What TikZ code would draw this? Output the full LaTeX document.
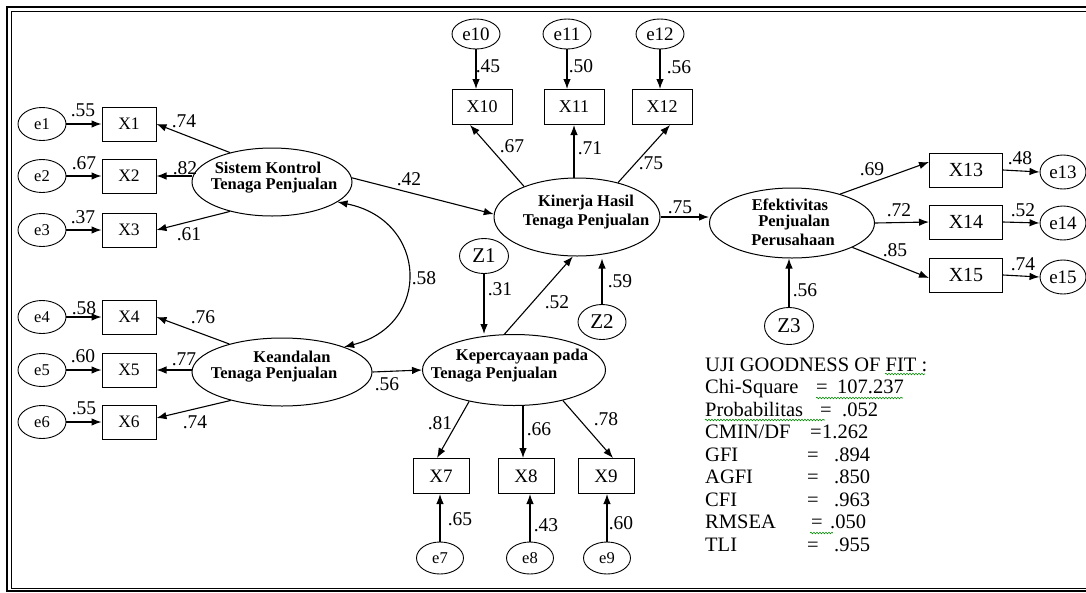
\documentclass[tikz,border=0pt]{standalone}
\usepackage{fontspec}
\setmainfont{Liberation Serif}
\usetikzlibrary{arrows.meta,shapes.geometric,decorations.pathmorphing}
\begin{document}
\begin{tikzpicture}[x=1pt,y=1pt,
 obs/.style={draw, rectangle, line width=1pt, inner sep=0pt, minimum height=34pt},
 err/.style={draw, ellipse, line width=0.9pt, inner sep=0pt},
 lat/.style={draw, ellipse, line width=1pt, inner sep=0pt},
 lt/.style={font=\fontsize{16.5}{18}\selectfont\bfseries, inner sep=0pt},
 lbl/.style={font=\fontsize{19.5}{20}\selectfont, inner sep=0pt},
 arr/.style={-{Latex[length=10pt,width=7.5pt]}, line width=1.1pt},
 st/.style={font=\fontsize{20.5}{22}\selectfont, inner sep=0pt, anchor=base west},
 squig/.style={draw=green!55!black, line width=0.6pt, decorate, decoration={snake, amplitude=0.8pt, segment length=3pt}}
]
\useasboundingbox (0,0) rectangle (1086,-592);
\clip (0,0) rectangle (1086,-592);
% frame
\draw[line width=2pt] (7,-7) rectangle (1100,-591);
\draw[line width=0.9pt] (11,-11) rectangle (1100,-588);

% left indicators
\foreach \i/\y in {1/124,2/176,3/230,4/317,5/370,6/422} {
  \node[err, minimum width=48pt, minimum height=33pt, font=\fontsize{16.5}{16}\selectfont] (e\i) at (42,-\y) {e\i};
  \node[obs, minimum width=54pt, font=\fontsize{17.5}{16}\selectfont] (X\i) at (129,-\y) {X\i};
  \draw[arr] (e\i) -- (X\i);
}
% top indicators
\foreach \i/\x/\ex in {10/482/476,11/574/567,12/662/660} {
  \node[obs, minimum width=60pt, minimum height=35pt, font=\fontsize{18}{16}\selectfont] (X\i) at (\x,-107) {X\i};
  \node[err, minimum width=48pt, minimum height=30pt, font=\fontsize{19}{18}\selectfont] (e\i) at (\ex,-34) {e\i};
  \draw[arr] (e\i.south) -- (e\i.south |- X\i.north);
}
% right indicators
\foreach \i/\y/\ey in {13/170/172,14/222/223,15/275/277} {
  \node[obs, minimum width=73pt, font=\fontsize{20}{19}\selectfont] (X\i) at (966,-\y) {X\i};
  \node[err, minimum width=46pt, minimum height=34pt, font=\fontsize{19}{18}\selectfont] (e\i) at (1063,-\ey) {e\i};
  \draw[arr] (X\i.east) -- (e\i.west);
}
% bottom indicators
\foreach \i/\x/\ex in {7/441/440,8/526/530,9/606/607} {
  \node[obs, minimum width=56pt, minimum height=35pt, font=\fontsize{19}{18}\selectfont] (X\i) at (\x,-476) {X\i};
  \node[err, minimum width=47pt, minimum height=32pt, font=\fontsize{16.5}{16}\selectfont] (e\i) at (\ex,-558) {e\i};
  \draw[arr] (e\i.north) -- (e\i.north |- X\i.south);
}

% latent variables
\node[lat, minimum width=160pt, minimum height=68pt] (sk) at (272,-182) {};
\node[lt] (skt1) at (268,-168) {Sistem Kontrol};
\node[lt] (skt2) at (274,-186) {Tenaga Penjualan};
\node[lat, minimum width=180pt, minimum height=68pt] (kd) at (282,-372) {};
\node[lt] (kdt1) at (292,-357) {Keandalan};
\node[lt] (kdt2) at (274,-375) {Tenaga Penjualan};
\node[lat, minimum width=183pt, minimum height=71pt] (kp) at (514,-370) {};
\node[lt] (kpt1) at (522,-357) {Kepercayaan pada};
\node[lt] (kpt2) at (494,-375) {Tenaga Penjualan};
\node[lat, minimum width=166pt, minimum height=78pt] (kh) at (577,-217) {};
\node[lt] (kht1) at (586,-203) {Kinerja Hasil};
\node[lt] (kht2) at (586,-222) {Tenaga Penjualan};
\node[lat, minimum width=165pt, minimum height=70pt] (ef) at (792,-223) {};
\node[lt] (eft1) at (790,-205) {Efektivitas};
\node[lt] (eft2) at (794,-223) {Penjualan};
\node[lt] (eft3) at (793,-240) {Perusahaan};

% disturbances
\node[err, minimum width=49pt, minimum height=35pt, font=\fontsize{21}{21}\selectfont] (Z1) at (484,-256) {Z1};
\node[err, minimum width=48pt, minimum height=35pt, font=\fontsize{21}{21}\selectfont] (Z2) at (602,-322) {Z2};
\node[err, minimum width=49pt, minimum height=37pt, font=\fontsize{21}{21}\selectfont] (Z3) at (789,-326) {Z3};

% loadings left
\draw[arr] (sk.145) -- (X1.east);
\draw[arr] (sk.west |- X2.east) -- (X2.east);
\draw[arr] (sk.215) -- (X3.east);
\draw[arr] (kd.152) -- (X4.east);
\draw[arr] (kd.west |- X5.east) -- (X5.east);
\draw[arr] (kd.209) -- ([yshift=4pt]X6.east);
% structural
\draw[arr] (sk.3) -- (kh.178);
\draw[arr] (kd.east) -- (kp.west);
\draw[arr] (kp.105) -- (kh.264);
\draw[arr] (kh.east) -- (kh.east -| ef.west);
\draw[arr] (Z1.south) -- (Z1.south |- kp.north);
\draw[arr] (Z2.north) -- ([yshift=-2pt]Z2.north |- kh.south);
\draw[arr] (Z3.north) -- (Z3.north |- ef.south);
\draw[{Latex[length=10pt,width=7.5pt]}-{Latex[length=10pt,width=7.5pt]}, line width=1.1pt]
  (sk.-17) .. controls (428,-220) and (432,-325) .. (kd.22);
% loadings top
\draw[arr] (kh.150) -- ([xshift=-12pt]X10.south);
\draw[arr] (X11.south |- kh.north) -- (X11.south);
\draw[arr] (kh.40) -- ([xshift=8pt]X12.south);
% loadings right
\draw[arr] (ef.31) -- ([yshift=8pt]X13.west);
\draw[arr] (ef.east) -- (X14.west);
\draw[arr] (ef.-22) -- ([yshift=-3pt]X15.west);
% loadings bottom
\draw[arr] (kp.215) -- ([xshift=-4pt]X7.north);
\draw[arr] ([xshift=-3pt]X8.north |- kp.south) -- ([xshift=-3pt]X8.north);
\draw[arr] (kp.-32) -- ([xshift=7pt]X9.north);

% labels
\node[lbl] (l1) at (83,-110) {.55};
\node[lbl] (l2) at (84,-163) {.67};
\node[lbl] (l3) at (83,-217) {.37};
\node[lbl] (l4) at (184,-121) {.74};
\node[lbl] (l5) at (185,-168) {.82};
\node[lbl] (l6) at (189,-234) {.61};
\node[lbl] (l7) at (84,-308) {.58};
\node[lbl] (l8) at (203,-317) {.76};
\node[lbl] (l9) at (83,-356) {.60};
\node[lbl] (l10) at (184,-359) {.77};
\node[lbl] (l11) at (84,-408) {.55};
\node[lbl] (l12) at (195,-422) {.74};
\node[lbl] (l13) at (387,-384) {.56};
\node[lbl] (l14) at (409,-179) {.42};
\node[lbl] (l15) at (424,-278) {.58};
\node[lbl] (l16) at (500,-289) {.31};
\node[lbl] (l17) at (557,-302) {.52};
\node[lbl] (l18) at (620,-281) {.59};
\node[lbl] (l19) at (680,-207) {.75};
\node[lbl] (l20) at (651,-163) {.75};
\node[lbl] (l21) at (590,-148) {.71};
\node[lbl] (l22) at (512,-146) {.67};
\node[lbl] (l23) at (488,-66) {.45};
\node[lbl] (l24) at (581,-66) {.50};
\node[lbl] (l25) at (679,-67) {.56};
\node[lbl] (l26) at (872,-169) {.69};
\node[lbl] (l27) at (899,-210) {.72};
\node[lbl] (l28) at (895,-250) {.85};
\node[lbl] (l29) at (805,-290) {.56};
\node[lbl] (l30) at (1020,-158) {.48};
\node[lbl] (l31) at (1023,-210) {.52};
\node[lbl] (l32) at (1023,-264) {.74};
\node[lbl] (l33) at (440,-423) {.81};
\node[lbl] (l34) at (539,-429) {.66};
\node[lbl] (l35) at (606,-419) {.78};
\node[lbl] (l36) at (460,-519) {.65};
\node[lbl] (l37) at (546,-525) {.43};
\node[lbl] (l38) at (621,-523) {.60};

% goodness of fit
\node[st] (s1) at (705,-371) {UJI GOODNESS OF FIT :};
\node[st] (s2a) at (705,-393.5) {Chi-Square};
\node[st] (s2b) at (816,-393.5) {=};
\node[st] (s2c) at (837,-393.5) {107.237};
\node[st] (s3a) at (705,-416) {Probabilitas};
\node[st] (s3b) at (820,-416) {=};
\node[st] (s3c) at (842,-416) {.052};
\node[st] (s4a) at (705,-438.5) {CMIN/DF};
\node[st] (s4b) at (810,-438.5) {=};
\node[st] (s4c) at (822,-438.5) {1.262};
\node[st] (s5a) at (705,-461) {GFI};
\node[st] (s5b) at (807,-461) {=};
\node[st] (s5c) at (834,-461) {.894};
\node[st] (s6a) at (705,-483.5) {AGFI};
\node[st] (s6b) at (807,-483.5) {=};
\node[st] (s6c) at (834,-483.5) {.850};
\node[st] (s7a) at (705,-506) {CFI};
\node[st] (s7b) at (807,-506) {=};
\node[st] (s7c) at (834,-506) {.963};
\node[st] (s8a) at (705,-528.5) {RMSEA};
\node[st] (s8b) at (811,-528.5) {=};
\node[st] (s8c) at (830,-528.5) {.050};
\node[st] (s9a) at (705,-551) {TLI};
\node[st] (s9b) at (807,-551) {=};
\node[st] (s9c) at (834,-551) {.955};
% spell-check squiggles
\draw[squig] (885,-374) -- (925,-374);
\draw[squig] (816,-398) -- (903,-398);
\draw[squig] (705,-420) -- (825,-420);
\draw[squig] (810,-533) -- (833,-533);
\end{tikzpicture}
\end{document}
